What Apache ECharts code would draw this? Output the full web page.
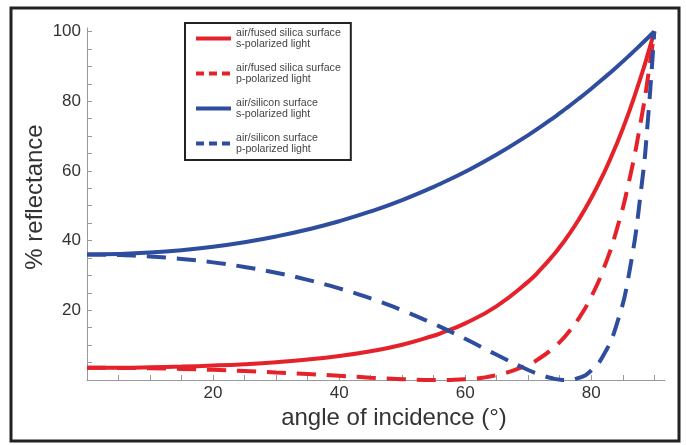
<!DOCTYPE html>
<html>
<head>
<meta charset="utf-8">
<script src="https://cdn.jsdelivr.net/npm/echarts@6/dist/echarts.min.js"></script>
<style>
html,body{margin:0;padding:0;background:#fff;}
#chart{width:686px;height:445px;}
</style>
</head>
<body>
<div id="chart"></div>
<script>
// Angle of incidence (degrees)
const angles = [0,5,10,15,20,25,30,35,40,45,50,55,56,60,65,70,72,74,75,76,78,80,82,84,86,88,89,90];
// % reflectance, air/fused silica, s-polarized
const silicaS = [3.50,3.53,3.65,3.84,4.14,4.55,5.11,5.86,6.88,8.26,10.13,12.70,13.32,16.25,21.22,28.23,31.78,35.87,38.14,40.58,45.98,52.20,59.34,67.54,76.94,87.70,93.65,100];
// % reflectance, air/fused silica, p-polarized
const silicaP = [3.50,3.46,3.35,3.17,2.91,2.58,2.17,1.71,1.20,0.68,0.24,0.00,0.00,0.24,1.42,4.42,6.46,9.19,10.88,12.82,17.60,23.89,32.12,42.90,57.03,75.58,86.94,100];
// % reflectance, air/silicon, s-polarized
const siliconS = [36.0,36.14,36.55,37.25,38.24,39.55,41.18,43.18,45.56,48.37,51.64,55.42,56.24,59.75,64.69,70.27,72.70,75.24,76.56,77.90,80.69,83.59,86.62,89.77,93.05,96.46,98.21,100];
// % reflectance, air/silicon, p-polarized
const siliconP = [36.0,35.86,35.45,34.75,33.75,32.43,30.77,28.74,26.29,23.40,20.02,16.15,15.32,11.83,7.23,2.87,1.44,0.41,0.11,0.00,0.59,2.72,7.30,15.76,30.54,55.95,74.91,100];

const seriesNames = [
  'air/fused silica surface\ns-polarized light',
  'air/fused silica surface\np-polarized light',
  'air/silicon surface\ns-polarized light',
  'air/silicon surface\np-polarized light'
];
const xTickLabels = [20,40,60,80];
const yTickLabels = [20,40,60,80,100];
const xTicks = [0,5,10,15,20,25,30,35,40,45,50,55,60,65,70,75,80,85,90];
const yTicks = [0,5,10,15,20,25,30,35,40,45,50,55,60,65,70,75,80,85,90,95,100];

const RED = '#e5222a';
const BLUE = '#2f4d9f';
const FONT = '"Liberation Sans", Arial, sans-serif';
const DASH = [19, 11];

function pairs(vals){ return angles.map((a,i)=>[a, vals[i]]); }

const chart = echarts.init(document.getElementById('chart'), null, {renderer:'canvas'});
chart.setOption({
  animation:false,
  backgroundColor:'#fff',
  grid:{left:87, right:21, top:28, bottom:65},
  xAxis:{
    type:'value', min:0, max:91.7,
    axisLine:{show:true, onZero:true, lineStyle:{color:'#999', width:1}},
    axisTick:{show:true, inside:true, length:5, customValues:xTicks, lineStyle:{color:'#999'}},
    axisLabel:{customValues:xTickLabels, fontSize:17, color:'#333', fontFamily:FONT, margin:5},
    splitLine:{show:false}
  },
  yAxis:{
    type:'value', min:0, max:101,
    axisLine:{show:true, lineStyle:{color:'#999', width:1}},
    axisTick:{show:true, inside:true, length:5, customValues:yTicks, lineStyle:{color:'#999'}},
    axisLabel:{customValues:yTickLabels, fontSize:17, color:'#333', fontFamily:FONT, margin:6},
    splitLine:{show:false}
  },
  legend:{
    orient:'vertical', left:185, top:23,
    padding:[4,10,5,9], itemGap:12, itemWidth:35, itemHeight:14,
    backgroundColor:'#fff', borderColor:'#222', borderWidth:2,
    itemStyle:{opacity:0},
    textStyle:{fontSize:10.6, lineHeight:11.5, color:'#444', fontFamily:FONT},
    data:[
      {name:seriesNames[0], lineStyle:{width:4}},
      {name:seriesNames[1], lineStyle:{width:4, type:[8,5]}},
      {name:seriesNames[2], lineStyle:{width:4}},
      {name:seriesNames[3], lineStyle:{width:4, type:[8,5]}}
    ]
  },
  graphic:[
    {type:'rect', shape:{x:11, y:8, width:668, height:433}, style:{fill:'none', stroke:'#222', lineWidth:3}, silent:true, z:100},
    {type:'text', x:35, y:197, rotation:Math.PI/2, style:{text:'% reflectance', font:'24px ' + FONT, fill:'#333', textAlign:'center', textVerticalAlign:'middle'}},
    {type:'text', x:394, y:418, style:{text:'angle of incidence (°)', font:'24px ' + FONT, fill:'#333', textAlign:'center', textVerticalAlign:'middle'}}
  ],
  series:[
    {name:seriesNames[0], type:'line', data:pairs(silicaS), smooth:true, symbol:'none', clip:true,
      lineStyle:{color:RED, width:4}, itemStyle:{color:RED}},
    {name:seriesNames[1], type:'line', data:pairs(silicaP), smooth:true, symbol:'none', clip:true,
      lineStyle:{color:RED, width:4, type:DASH}, itemStyle:{color:RED}},
    {name:seriesNames[2], type:'line', data:pairs(siliconS), smooth:true, symbol:'none', clip:true,
      lineStyle:{color:BLUE, width:4}, itemStyle:{color:BLUE}},
    {name:seriesNames[3], type:'line', data:pairs(siliconP), smooth:true, symbol:'none', clip:true,
      lineStyle:{color:BLUE, width:4, type:DASH}, itemStyle:{color:BLUE}}
  ]
});
</script>
</body>
</html>
